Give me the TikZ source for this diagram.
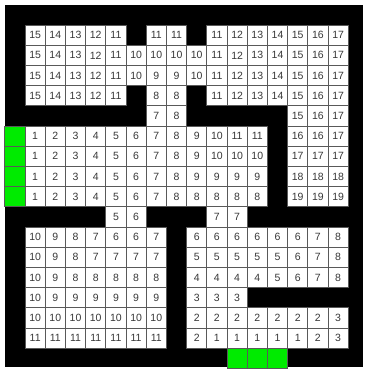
\documentclass[tikz,border=0pt]{standalone}
\usepackage{fontspec}
\setsansfont{Liberation Sans}
\usetikzlibrary{positioning}
\definecolor{doorgreen}{RGB}{0,235,0}

\begin{document}
\begin{tikzpicture}[
    x=0.5cm, y=-0.5cm, % one unit per cell, rows counted downwards
    cell/.style={rectangle, draw=black!65, line width=0.6pt, fill=white, minimum size=0.5cm, inner sep=0pt, font=\sffamily\fontsize{7.4}{8}\selectfont, text=black!78},
    door/.style={cell, fill=doorgreen}
]

    % Frame
    \fill[white] (-0.24,-0.24) rectangle (17.83,18.08);
    \fill[black] (0,0) rectangle (17.73,17.93);

    % Distance cells (0 = wall)
    \foreach \row [count=\r] in {
        {15,14,13,12,11,0,11,11,0,11,12,13,14,15,16,17},
        {15,14,13,12,11,10,10,10,10,11,12,13,14,15,16,17},
        {15,14,13,12,11,10,9,9,10,11,12,13,14,15,16,17},
        {15,14,13,12,11,0,8,8,0,11,12,13,14,15,16,17},
        {0,0,0,0,0,0,7,8,0,0,0,0,0,15,16,17},
        {1,2,3,4,5,6,7,8,9,10,11,11,0,16,16,17},
        {1,2,3,4,5,6,7,8,9,10,10,10,0,17,17,17},
        {1,2,3,4,5,6,7,8,9,9,9,9,0,18,18,18},
        {1,2,3,4,5,6,7,8,8,8,8,8,0,19,19,19},
        {0,0,0,0,5,6,0,0,0,7,7,0,0,0,0,0},
        {10,9,8,7,6,6,7,0,6,6,6,6,6,6,7,8},
        {10,9,8,7,7,7,7,0,5,5,5,5,5,6,7,8},
        {10,9,8,8,8,8,8,0,4,4,4,4,5,6,7,8},
        {10,9,9,9,9,9,9,0,3,3,3,0,0,0,0,0},
        {10,10,10,10,10,10,10,0,2,2,2,2,2,2,2,3},
        {11,11,11,11,11,11,11,0,2,1,1,1,1,1,2,3}} {
        \foreach \v [count=\c] in \row {
            \ifnum\v>0
                \node[cell] (c-\r-\c) at (\c+0.5,\r+0.5) {\v};
            \fi
        }
    }

    % Entrance and exit
    \foreach \r in {6,...,9}
        \node[door] (in-\r) at (0.5,\r+0.5) {};
    \foreach \c in {11,12,13}
        \node[door] (out-\c) at (\c+0.5,17.5) {};
\end{tikzpicture}
\end{document}
